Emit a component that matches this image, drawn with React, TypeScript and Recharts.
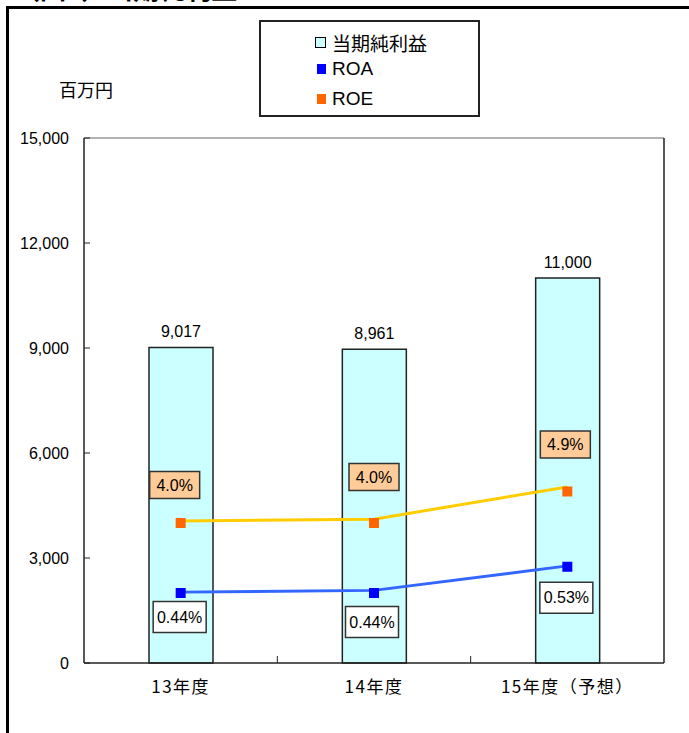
import { ComposedChart, Bar, Line, XAxis, YAxis, LabelList, ReferenceLine } from 'recharts';

const categories = ['13年度', '14年度', '15年度（予想）'];
const netIncome = [9017, 8961, 11000];
const roe = [4.0, 4.0, 4.9];
const roa = [0.44, 0.44, 0.53];
// the connecting lines sit a little off the markers in the original
const roeLine = [4.06, 4.11, 5.03];
const roaLine = [0.443, 0.449, 0.533];
const yTicks = [0, 3000, 6000, 9000, 12000, 15000];

const data = categories.map((name, i) => ({
  name,
  netIncome: netIncome[i],
  roe: roe[i],
  roa: roa[i],
  roeLine: roeLine[i],
  roaLine: roaLine[i],
}));

const W = 689;
const H = 733;
const PLOT_LEFT = 84;
const PLOT_RIGHT = 664;
const BAND = (PLOT_RIGHT - PLOT_LEFT) / categories.length;
const JP = '"Noto Sans CJK JP", sans-serif';
const NUM = '"Liberation Sans", Arial, sans-serif';

// label box nudges relative to each marker
const roeNudge = [[-6, -38], [0, -46], [-2, -47]];
const roaNudge = [[-1, 24], [-2, 29], [-1, 31]];

function YTick({ x, y, payload }: any) {
  return (
    <g>
      <line x1={x + 15} x2={x + 21} y1={y} y2={y} stroke="#222" strokeWidth={1} />
      <text x={x} y={y} textAnchor="end" dominantBaseline="central" fontFamily={NUM} fontSize={16} fill="#000">
        {payload.value.toLocaleString('en-US')}
      </text>
    </g>
  );
}

function XTick({ x, y, payload, index }: any) {
  return (
    <g>
      {index < categories.length - 1 && (
        <line x1={x + BAND / 2} x2={x + BAND / 2} y1={y} y2={y - 7} stroke="#222" strokeWidth={1} />
      )}
      <text x={x} y={y + 30} textAnchor="middle" fontFamily={JP} fontSize={17} letterSpacing={1.5} fill="#000">
        {payload.value}
      </text>
    </g>
  );
}

function square(color: string) {
  return (props: any) => {
    const { cx, cy, index } = props;
    if (cx == null || cy == null) return <g key={index} />;
    return <rect key={index} x={cx - 5} y={cy - 5} width={10} height={10} fill={color} />;
  };
}

function boxLabel(fill: string, nudge: number[][], w: number, h: number, fmt: (v: number) => string) {
  return (props: any) => {
    const { x, y, value, index } = props;
    const [dx, dy] = nudge[index] || [0, 0];
    const cx = x + dx;
    const cy = y + dy;
    return (
      <g>
        <rect x={cx - w / 2} y={cy - h / 2} width={w} height={h} fill={fill} stroke="#333" strokeWidth={1.5} />
        <text x={cx} y={cy} textAnchor="middle" dominantBaseline="central" fontFamily={NUM} fontSize={16} fill="#000">
          {fmt(value)}
        </text>
      </g>
    );
  };
}

export default function App() {
  return (
    <div style={{ position: 'absolute', left: 0, top: 0, width: W, height: H, overflow: 'hidden', background: '#fff' }}>
      <div
        style={{
          position: 'absolute', left: 14, top: -25, fontFamily: JP, fontSize: 26, fontWeight: 700,
          lineHeight: '26px', whiteSpace: 'nowrap', color: '#000',
        }}
      >
        （図3）当期純利益・ROE・ROA
      </div>
      <div
        style={{
          position: 'absolute', left: 6, top: 6, width: W, height: H,
          borderLeft: '3px solid #000', borderTop: '3px solid #000', boxSizing: 'border-box',
        }}
      />
      <div style={{ position: 'absolute', left: 59, top: 76, fontFamily: JP, fontSize: 18, color: '#000' }}>百万円</div>

      <div
        style={{
          position: 'absolute', left: 259, top: 20, width: 221, height: 97, boxSizing: 'border-box',
          border: '2px solid #222', background: '#fff', fontFamily: JP, fontSize: 19, color: '#000',
        }}
      >
        <div style={{ position: 'absolute', left: 54, top: 7, display: 'flex', alignItems: 'center' }}>
          <span style={{ width: 9, height: 9, border: '1px solid #000', background: '#CCFFFF', marginRight: 6 }} />
          当期純利益
        </div>
        <div style={{ position: 'absolute', left: 56, top: 36, display: 'flex', alignItems: 'center', fontFamily: NUM }}>
          <span style={{ width: 9, height: 10, background: '#0000FF', marginRight: 6 }} />
          ROA
        </div>
        <div style={{ position: 'absolute', left: 56, top: 66, display: 'flex', alignItems: 'center', fontFamily: NUM }}>
          <span style={{ width: 9, height: 10, background: '#FF6600', marginRight: 6 }} />
          ROE
        </div>
      </div>

      <div style={{ position: 'absolute', left: 0, top: 0 }}>
        <ComposedChart width={W} height={H} data={data} margin={{ top: 138, right: 24, bottom: 40, left: 0 }}>
          <XAxis
            dataKey="name"
            height={30}
            tickLine={false}
            tickSize={0}
            tickMargin={0}
            tick={<XTick />}
            axisLine={{ stroke: '#222', strokeWidth: 1.5 }}
            interval={0}
          />
          <YAxis
            yAxisId="left"
            width={84}
            domain={[0, 15000]}
            ticks={yTicks}
            tickLine={false}
            tickSize={0}
            tickMargin={15}
            tick={<YTick />}
            axisLine={{ stroke: '#222', strokeWidth: 1.5 }}
            interval={0}
          />
          <YAxis
            yAxisId="roe"
            orientation="right"
            width={1}
            domain={[0, 15]}
            tick={false}
            tickLine={false}
            axisLine={{ stroke: '#222', strokeWidth: 1.5 }}
          />
          <YAxis yAxisId="roa" hide domain={[0.2, 2.0]} />
          <ReferenceLine yAxisId="left" y={15000} stroke="#999" strokeWidth={1.5} />
          <Bar
            yAxisId="left"
            dataKey="netIncome"
            barSize={64}
            fill="#CCFFFF"
            stroke="#222"
            strokeWidth={1.5}
            isAnimationActive={false}
          >
            <LabelList
              dataKey="netIncome"
              position="top"
              offset={10}
              formatter={(v: any) => Number(v).toLocaleString('en-US')}
              style={{ fontFamily: NUM, fontSize: 16, fill: '#000' }}
            />
          </Bar>
          <Line yAxisId="roe" dataKey="roeLine" stroke="#FFCC00" strokeWidth={3} dot={false} activeDot={false} isAnimationActive={false} />
          <Line yAxisId="roa" dataKey="roaLine" stroke="#3366FF" strokeWidth={3} dot={false} activeDot={false} isAnimationActive={false} />
          <Line
            yAxisId="roe"
            dataKey="roe"
            stroke="none"
            dot={square('#FF6600')}
            activeDot={false}
            isAnimationActive={false}
          >
            <LabelList dataKey="roe" content={boxLabel('#FFCC99', roeNudge, 50, 27, (v) => `${v.toFixed(1)}%`)} />
          </Line>
          <Line
            yAxisId="roa"
            dataKey="roa"
            stroke="none"
            dot={square('#0000FF')}
            activeDot={false}
            isAnimationActive={false}
          >
            <LabelList dataKey="roa" content={boxLabel('#FFFFFF', roaNudge, 53, 31, (v) => `${v.toFixed(2)}%`)} />
          </Line>
        </ComposedChart>
      </div>
    </div>
  );
}
